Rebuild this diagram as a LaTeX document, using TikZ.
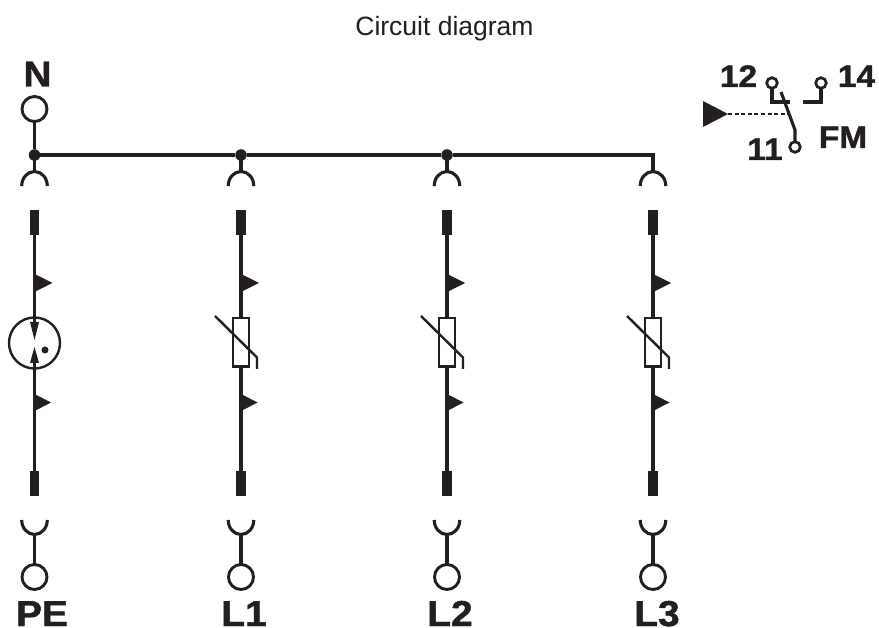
\documentclass[tikz,border=0pt]{standalone}
\usepackage{fontspec}
\setmainfont{Liberation Sans}
\newfontfamily\heavyfont[FakeBold=1.2]{Liberation Sans}
\begin{document}
\begin{tikzpicture}[x=1pt,y=-1pt,
  wire/.style={line width=3.6pt,draw=ink},
  thin wire/.style={line width=3.1pt,draw=ink},
  term/.style={circle,draw=ink,line width=2.9pt,fill=white,minimum size=25pt,inner sep=0pt,outer sep=0pt},
  smallterm/.style={circle,draw=ink,line width=2.7pt,fill=white,minimum size=10.6pt,inner sep=0pt,outer sep=0pt},
  joint/.style={circle,fill=ink,minimum size=11.5pt,inner sep=0pt,outer sep=0pt},
  blade/.style={fill=ink,draw=none,minimum width=9.5pt,minimum height=25pt,inner sep=0pt,outer sep=0pt,rectangle},
  biglabel/.style={font=\fontsize{36}{36}\heavyfont\bfseries,text=ink,inner sep=0pt,xscale=1.08,text depth=0pt},
  smalllabel/.style={font=\fontsize{31}{31}\heavyfont\bfseries,text=ink,inner sep=0pt,xscale=1.08},
  title/.style={font=\fontsize{26.5}{26.5}\selectfont,text=ink,inner sep=0pt},
  varbox/.style={rectangle,draw=ink,line width=2.4pt,fill=white,minimum width=16.4pt,minimum height=48.4pt,inner sep=0pt,outer sep=0pt}]
\definecolor{ink}{HTML}{231F20}
\useasboundingbox (0,0) rectangle (879,628);
\fill[white] (0,0) rectangle (879,628);
\node[title,anchor=base] (ttl) at (444.5,36) {Circuit diagram};

% top terminal and bus
\node[term] (tN) at (34.5,109) {};
\node[joint] (j1) at (34.5,155) {};
\node[joint] (j2) at (241,155) {};
\node[joint] (j3) at (447,155) {};
\coordinate (c4) at (653,155);
\draw[thin wire] (tN) -- (j1);
\draw[wire] (j1) -- (j2);
\draw[wire] (j2) -- (j3);
\draw[wire,line join=miter] (j3) -- (c4) -- ++(0,18);

% columns
\foreach \n/\x/\lab in {1/34.5/PE,2/241/L1,3/447/L2,4/653/L3}{
  \coordinate (socket\n) at (\x,172);
  \draw[thin wire] (\x,155) -- (socket\n);
  \draw[thin wire] (\x-12.8,186) arc[start angle=180,end angle=360,radius=12.8,y radius=14.5];
  \node[blade] (top\n) at (\x,222.5) {};
  \node[blade] (bot\n) at (\x,483.5) {};
  \draw[wire] (top\n) -- (bot\n);
  \fill[ink] (\x,274) -- (\x+18,283) -- (\x,292) -- cycle;
  \fill[ink] (\x,394) -- (\x+16.5,402.5) -- (\x,411) -- cycle;
  \coordinate (cup\n) at (\x,534);
  \draw[thin wire] (\x-12.8,520) arc[start angle=180,end angle=360,radius=12.8,y radius=-14.5];
  \node[term] (b\n) at (\x,577) {};
  \draw[thin wire] (cup\n) -- (b\n);
}
\node[biglabel,anchor=base] (lN) at (37.5,86.5) {N};
\node[biglabel,anchor=base] (lPE) at (42,626) {PE};
\node[biglabel,anchor=base] (lL1) at (244,626) {L1};
\node[biglabel,anchor=base] (lL2) at (450,626) {L2};
\node[biglabel,anchor=base] (lL3) at (657,626) {L3};

% gas discharge tube
\node[circle,draw=ink,line width=2.4pt,fill=white,minimum size=51pt,inner sep=0pt] (gdt) at (34.5,343) {};
\fill[ink] (30,322) -- (39,322) -- (34.5,340) -- cycle;
\fill[ink] (30,363) -- (39,363) -- (34.5,347) -- cycle;
\draw[wire] (34.5,316) -- (34.5,324);
\draw[wire] (34.5,361) -- (34.5,371);
\node[circle,fill=ink,minimum size=7pt,inner sep=0pt] (gdot) at (45,350) {};

% varistors
\foreach \n/\x in {2/241,3/447,4/653}{
  \node[varbox] (v\n) at (\x,342.5) {};
  \draw[line width=2.4pt,draw=ink] (\x-26,316) -- (\x+16,357.5) -- (\x+16,369);
}

% relay contact
\node[smallterm] (t12) at (772,83) {};
\node[smallterm] (t14) at (821,83) {};
\node[smallterm] (t11) at (795,147) {};
\coordinate (sw1) at (781,92);
\coordinate (sw2) at (795,130);
\coordinate (sw3) at (788,114);
\coordinate (tri) at (728,114);
\draw[thin wire] (t12) |- (790,102);
\draw[thin wire] (t14) |- (803,102);
\draw[thin wire] (sw1) -- (sw2) -- (t11);
\draw[line width=1.1pt,draw=ink,dash pattern=on 4pt off 2.6pt] (tri) -- (sw3);
\fill[ink] (703,101) -- (tri) -- (703,127) -- cycle;
\node[smalllabel,anchor=base] (l12) at (738.5,87) {12};
\node[smalllabel,anchor=base] (l14) at (856.5,87) {14};
\node[smalllabel,anchor=base] (l11) at (765,160) {11};
\node[smalllabel,anchor=base] (lFM) at (843,148) {FM};
\end{tikzpicture}
\end{document}
